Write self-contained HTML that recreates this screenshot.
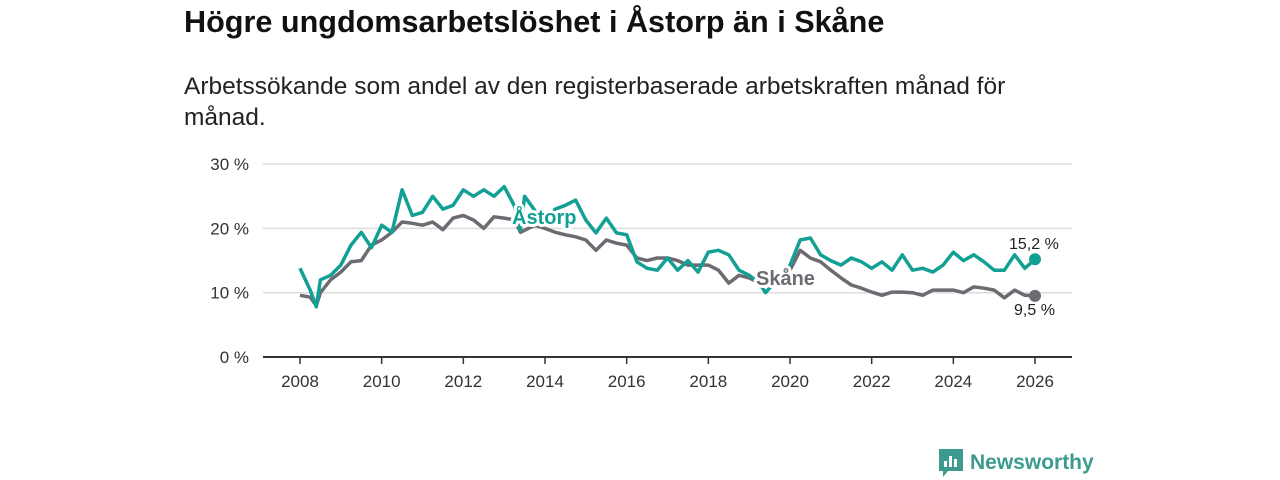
<!DOCTYPE html>
<html><head><meta charset="utf-8"><style>
body{margin:0;background:#fff;width:1280px;height:480px;overflow:hidden;font-family:"Liberation Sans",sans-serif}
h1{position:absolute;left:184px;top:5px;margin:0;font-size:30.6px;font-weight:bold;color:#111;white-space:nowrap}
p{position:absolute;left:184px;top:71px;margin:0;font-size:24.5px;line-height:31px;color:#222;width:880px}
svg{position:absolute;left:0;top:0}
</style></head><body>
<h1>Högre ungdomsarbetslöshet i Åstorp än i Skåne</h1>
<p>Arbetssökande som andel av den registerbaserade arbetskraften månad för månad.</p>
<svg id="c" width="1280" height="480"></svg>
<script>
const years=[2008,2010,2012,2014,2016,2018,2020,2022,2024,2026];
const yTicks=[0,10,20,30];
const astorpT=[2008,2008.25,2008.4,2008.5,2008.75,2009,2009.25,2009.5,2009.75,2010,2010.25,2010.5,2010.75,2011,2011.25,2011.5,2011.75,2012,2012.25,2012.5,2012.75,2013,2013.25,2013.4,2013.5,2013.75,2014,2014.25,2014.5,2014.75,2015,2015.25,2015.5,2015.75,2016,2016.25,2016.5,2016.75,2017,2017.25,2017.5,2017.75,2018,2018.25,2018.5,2018.75,2019,2019.25,2019.4,2019.75,2020,2020.25,2020.5,2020.75,2021,2021.25,2021.5,2021.75,2022,2022.25,2022.5,2022.75,2023,2023.25,2023.5,2023.75,2024,2024.25,2024.5,2024.75,2025,2025.25,2025.5,2025.75,2026];
const astorpV=[13.8,10.4,7.8,12,12.7,14.3,17.4,19.4,17,20.5,19.4,26,22,22.5,25,23,23.6,26,25,26,25,26.5,23.5,19.7,25,22.8,21,23,23.6,24.4,21.3,19.3,21.6,19.3,19,14.8,13.8,13.5,15.4,13.5,15,13.2,16.3,16.6,15.9,13.5,12.7,11.5,10,12.5,14.3,18.2,18.5,15.9,15,14.3,15.4,14.8,13.8,14.8,13.5,15.9,13.5,13.8,13.2,14.3,16.3,15,15.9,14.8,13.5,13.5,15.9,13.8,15.2];
const skaneT=[2008,2008.25,2008.4,2008.5,2008.75,2009,2009.25,2009.5,2009.75,2010,2010.25,2010.5,2010.75,2011,2011.25,2011.5,2011.75,2012,2012.25,2012.5,2012.75,2013,2013.25,2013.4,2013.75,2014,2014.25,2014.5,2014.75,2015,2015.25,2015.5,2015.75,2016,2016.25,2016.5,2016.75,2017,2017.25,2017.5,2017.75,2018,2018.25,2018.5,2018.75,2019,2019.25,2019.5,2019.75,2020,2020.25,2020.5,2020.75,2021,2021.25,2021.5,2021.75,2022,2022.25,2022.5,2022.75,2023,2023.25,2023.5,2023.75,2024,2024.25,2024.5,2024.75,2025,2025.25,2025.5,2025.75,2026];
const skaneV=[9.6,9.3,8,10,12,13.2,14.8,15,17.4,18.2,19.4,21,20.8,20.5,21,19.8,21.6,22,21.3,20,21.8,21.6,21.3,19.4,20.5,20,19.4,19,18.7,18.2,16.6,18.2,17.7,17.4,15.4,15,15.4,15.4,15,14.3,14.3,14.3,13.5,11.5,12.7,12.3,11.5,11.8,12.5,13.5,16.6,15.4,14.8,13.5,12.3,11.2,10.7,10.1,9.6,10.1,10.1,10,9.6,10.4,10.4,10.4,10,10.9,10.7,10.4,9.2,10.4,9.6,9.5];
const NS='http://www.w3.org/2000/svg',svg=document.getElementById('c');
const X=t=>300+(t-2008)*(1035-300)/18, Y=v=>357-v*6.43;
function mk(tag,a,p){const e=document.createElementNS(NS,tag);for(const k in a)e.setAttribute(k,a[k]);(p||svg).appendChild(e);return e;}
yTicks.forEach(v=>{
 const l=mk('line',{x1:263,x2:1072,y1:Y(v),y2:Y(v),stroke:v?'#ddd':'#333','stroke-width':v?1.5:2});
 
 
 const t=mk('text',{x:249,y:Y(v)+6,'text-anchor':'end','font-size':17,fill:'#333'});t.textContent=v+' %';
 
 
});
years.forEach(y=>{
 const l=mk('line',{x1:X(y),x2:X(y),y1:357,y2:364,stroke:'#333','stroke-width':1.5});
 
 
 const t=mk('text',{x:X(y),y:387,'text-anchor':'middle','font-size':17,fill:'#333'});t.textContent=y;
 
 
});
function line(T,V,c,n){
 const p=mk('path',{d:T.map((t,i)=>(i?'L':'M')+X(t).toFixed(1)+','+Y(V[i]).toFixed(1)).join(''),fill:'none',stroke:c,'stroke-width':3.5,'stroke-linejoin':'round'});
 
 
 const d=mk('circle',{cx:X(T[T.length-1]),cy:Y(V[V.length-1]),r:6,fill:c});
 
 
}
line(skaneT,skaneV,'#6d6b72','skane');
line(astorpT,astorpV,'#12a095','astorp');
function lab(x,y,s,c,fs,w,n){
 const t=mk('text',{x:x,y:y,'font-size':fs,'font-weight':w,fill:c,stroke:'#fff','stroke-width':w=='bold'?6:4,'paint-order':'stroke','stroke-linejoin':'round'});t.textContent=s;
 
 
}
lab(512,224,'Åstorp','#12a095',20,'bold','astorp-label');
lab(756,285,'Skåne','#6d6b72',20,'bold','skane-label');
lab(1009,249,'15,2 %','#222',16,'normal','astorp-last-value');
lab(1014,315,'9,5 %','#222',16,'normal','skane-last-value');
</script>
<div style="position:absolute;left:938px;top:448px;display:flex;align-items:center;gap:6px">
<svg width="26" height="30" style="position:static"><path d="M1 1h24v22H10l-5 6v-6H1z" fill="#3c9a8e"/><rect x="6" y="13" width="3" height="6" fill="#fff"/><rect x="11" y="8" width="3" height="11" fill="#fff"/><rect x="16" y="11" width="3" height="8" fill="#fff"/></svg>
<span style="font-size:21px;font-weight:bold;color:#3c9a8e">Newsworthy</span></div>
</body></html>
